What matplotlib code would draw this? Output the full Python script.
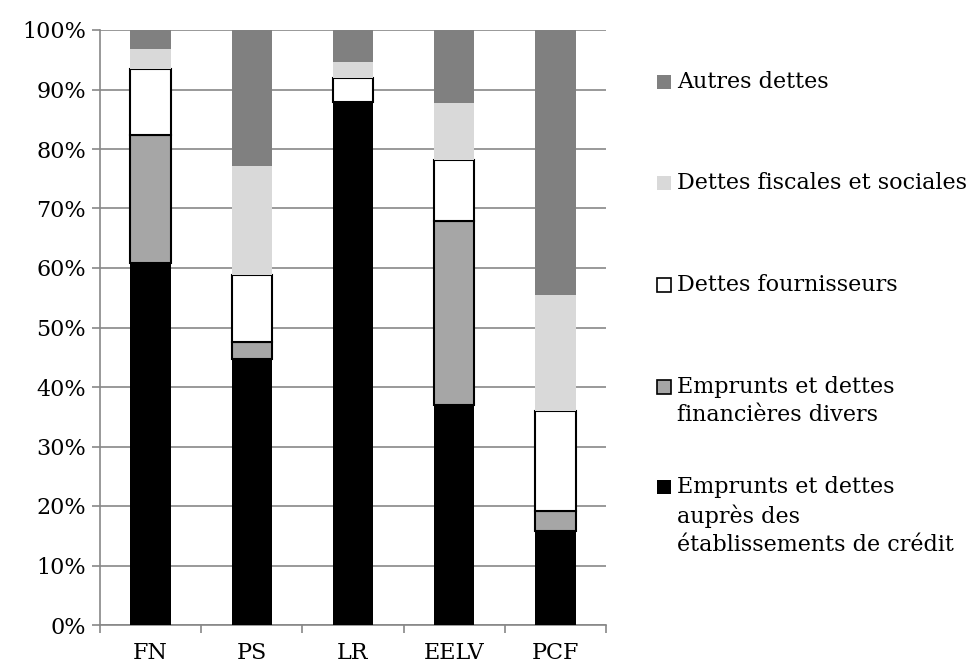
import numpy as np
from matplotlib import pyplot as plt
from matplotlib.patches import Rectangle

partis = ['FN', 'PS', 'LR', 'EELV', 'PCF']
# parts en % (de bas en haut)
credit = [60.8, 44.7, 87.9, 37.0, 15.8]
financieres = [21.5, 2.9, 0.0, 30.9, 3.4]
fournisseurs = [11.1, 11.2, 4.0, 10.2, 16.8]
fiscales = [3.4, 18.3, 2.8, 9.7, 19.4]
autres = [3.2, 22.9, 5.3, 12.2, 44.6]

labels = ['Emprunts et dettes\nauprès des\nétablissements de crédit',
          'Emprunts et dettes\nfinancières divers',
          'Dettes fournisseurs',
          'Dettes fiscales et sociales',
          'Autres dettes']
colors = ['#000000', '#a6a6a6', '#ffffff', '#d9d9d9', '#808080']
edges = ['none', '#000000', '#000000', 'none', 'none']

plt.rcParams['font.family'] = ['DejaVu Serif']

fig = plt.figure(figsize=(9.71, 6.71), dpi=100)
ax = fig.add_axes([100 / 971, 46 / 671, 506 / 971, 595 / 671])

x = np.arange(len(partis))
bottom = np.zeros(len(partis))
series = [credit, financieres, fournisseurs, fiscales, autres]
for vals, c, e in zip(series, colors, edges):
    vals = np.array(vals) / 100
    ax.bar(x, vals, 0.4, bottom=bottom, color=c, edgecolor=e,
           linewidth=1.5 if e != 'none' else 0, zorder=3)
    bottom += vals

ax.set_xlim(-0.5, len(partis) - 0.5)
ax.set_ylim(0, 1)
ax.set_yticks(np.linspace(0, 1, 11))
ax.set_yticklabels(['%d%%' % v for v in range(0, 101, 10)], fontsize=16)
ax.set_xticks(x)
ax.set_xticklabels(partis, fontsize=16)
ax.set_xticks(np.arange(len(partis) + 1) - 0.5, minor=True)
ax.tick_params(axis='x', which='major', length=0, pad=12)
ax.tick_params(axis='x', which='minor', length=6, color='#878787', width=1.2)
ax.tick_params(axis='y', length=6, color='#878787', width=1.2, pad=4)
ax.yaxis.grid(True, color='#878787', linewidth=1.2, zorder=0)
ax.set_axisbelow(True)
for s in ['top', 'right']:
    ax.spines[s].set_visible(False)
for s in ['left', 'bottom']:
    ax.spines[s].set_color('#878787')
    ax.spines[s].set_linewidth(1.2)

# legende a droite, de haut en bas
leg_y = [82, 183, 285, 387, 487]
for lab, c, e, yy in zip(labels[::-1], colors[::-1], edges[::-1], leg_y):
    fig.patches.append(Rectangle((657 / 971, 1 - (yy + 7) / 671), 14 / 971, 14 / 671,
                                 transform=fig.transFigure, facecolor=c,
                                 edgecolor='#000000' if e != 'none' else 'none',
                                 linewidth=1.2))
    fig.text(677 / 971, 1 - (yy - 11) / 671, lab, fontsize=16, va='top',
             ha='left', linespacing=1.35)

fig.savefig('out.png', dpi=100)
